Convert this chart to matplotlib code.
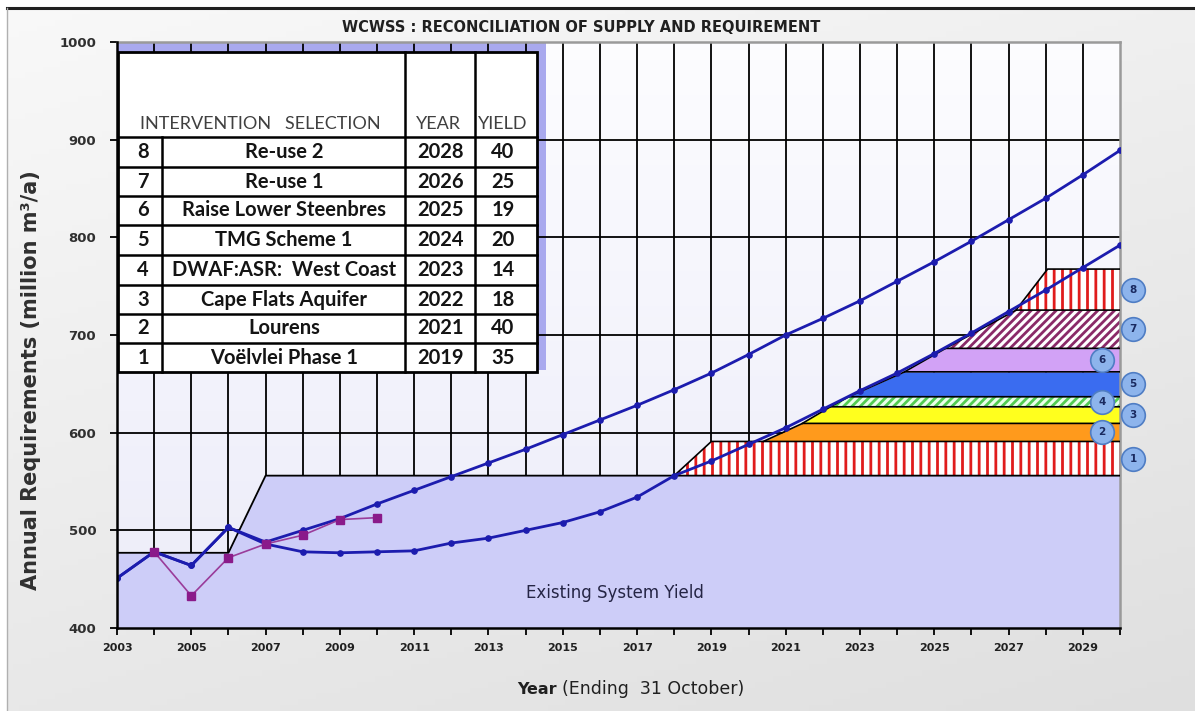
import numpy as np
import matplotlib
matplotlib.use("Agg")
import matplotlib.pyplot as plt
from matplotlib.patches import Rectangle
import matplotlib.transforms as mtransforms

# ---------------- data ----------------
years = list(range(2003, 2031))
req_high = [451, 478, 464, 503, 488, 500, 512, 527, 541, 555, 569, 583, 598, 613,
            628, 644, 661, 680, 700, 717, 735, 755, 775, 796, 818, 840, 864, 889]
req_low = [451, 478, 464, 503, 486, 478, 477, 478, 479, 487, 492, 500, 508, 519,
           534, 556, 571, 588, 605, 624, 643, 661, 681, 702, 724, 746, 769, 792]
obs_years = [2004, 2005, 2006, 2007, 2008, 2009, 2010]
obs_vals = [478, 433, 472, 486, 495, 511, 513]
yield_years = [2003, 2006, 2007, 2030]
yield_vals = [477, 477, 556, 556]

int_ids = [1, 2, 3, 4, 5, 6, 7, 8]
int_names = ["Voëlvlei Phase 1", "Lourens", "Cape Flats Aquifer", "DWAF:ASR:  West Coast",
             "TMG Scheme 1", "Raise Lower Steenbres", "Re-use 1", "Re-use 2"]
int_years = [2019, 2021, 2022, 2023, 2024, 2025, 2026, 2028]
int_yields = [35, 40, 18, 14, 20, 19, 25, 40]
band_heights = [35, 18.5, 17, 10.3, 25.5, 24, 39.2, 42]
ramp_start = [2018.0, 2020.4, 2021.45, 2022.2, 2022.7, 2024.2, 2025.3, 2027.2]
ramp_end = [2019.0, 2021.45, 2022.2, 2022.7, 2024.2, 2025.3, 2027.2, 2028.05]

xtick_labels = [str(y) if (y - 2003) % 2 == 0 else "" for y in years]
yticks = [400, 500, 600, 700, 800, 900, 1000]

# ---------------- styles ----------------
band_styles = [
    dict(facecolor="white", edgecolor="#e01c1c", hatch="||"),
    dict(facecolor="#ff9a1c", edgecolor="#ff9a1c", hatch=None),
    dict(facecolor="#ffff1e", edgecolor="#ffff1e", hatch=None),
    dict(facecolor="#eaffea", edgecolor="#52cc52", hatch="////"),
    dict(facecolor="#3a6cf0", edgecolor="#3a6cf0", hatch=None),
    dict(facecolor="#d2a2f6", edgecolor="#d2a2f6", hatch=None),
    dict(facecolor="white", edgecolor="#8a2a68", hatch="////"),
    dict(facecolor="white", edgecolor="#e01c1c", hatch="||"),
]
circ_x = [1.013, 0.982, 1.013, 0.982, 1.013, 0.982, 1.013, 1.013]

plt.rcParams["hatch.linewidth"] = 2.0
W, H = 1195, 711
fig = plt.figure(figsize=(W / 100, H / 100), dpi=100, facecolor="white")

# background frame
bg = fig.add_axes([0, 0, 1, 1], zorder=-10)
bg.set_xlim(0, W)
bg.set_ylim(H, 0)
bg.axis("off")
gx, gy = np.meshgrid(np.linspace(0, 1, 200), np.linspace(0, 1, 120))
t = 0.35 * gx + 0.65 * gy
c0 = np.array([0.975, 0.975, 0.975])
c1 = np.array([0.875, 0.875, 0.875])
img = c0 + (c1 - c0) * t[..., None]
bg.imshow(img, extent=[7, W, H, 8], aspect="auto", zorder=0)
bg.plot([7, W], [8, 8], color="#202020", lw=2.2, zorder=1)
bg.plot([7, 7], [8, H], color="#b0b0b0", lw=1.0, zorder=1)

# main axes
ax = fig.add_axes([117 / W, 1 - 628 / H, (1120 - 117) / W, (628 - 42) / H])
ax.set_xlim(2003, 2030)
ax.set_ylim(400, 1000)
ax.patch.set_visible(False)

grad = np.linspace(0, 1, 100)[:, None, None]
top_c = np.array([0.99, 0.99, 1.0])
bot_c = np.array([0.925, 0.925, 0.975])
gimg = top_c + (bot_c - top_c) * grad
ax.imshow(gimg, extent=[2003, 2030, 400, 1000], aspect="auto", zorder=0, origin="upper")

# lavender area behind table
ax.add_patch(Rectangle((0, 0.44), 0.428, 0.56, transform=ax.transAxes,
                       facecolor="#a9a9ee", edgecolor="none", zorder=0.5))

for yr in years[1:-1]:
    ax.axvline(yr, color="black", lw=1.3, zorder=1)
for yv in yticks[1:-1]:
    ax.axhline(yv, color="black", lw=1.3, zorder=1)

xs = np.linspace(2003, 2030, 5401)
base = np.interp(xs, yield_years, yield_vals)
ax.fill_between(xs, 400, base, facecolor="#cdcdf8", edgecolor="none", lw=0, zorder=2)
ax.plot(yield_years, yield_vals, color="black", lw=1.3, zorder=3)

cum = base.copy()
mids = []
for i in range(len(int_ids)):
    ramp = np.clip((xs - ramp_start[i]) / (ramp_end[i] - ramp_start[i]), 0, 1)
    top = cum + band_heights[i] * ramp
    st = band_styles[i]
    ax.fill_between(xs, cum, top, facecolor=st["facecolor"], edgecolor=st["edgecolor"],
                    hatch=st["hatch"], lw=0, zorder=2.5)
    m = xs >= ramp_start[i]
    ax.plot(xs[m], top[m], color="black", lw=1.2, zorder=3)
    mids.append(cum[-1] + band_heights[i] / 2)
    cum = top

ax.plot(years, req_high, color="#1c1cae", lw=2.0, marker="o", ms=3.8, zorder=4)
ax.plot(years, req_low, color="#1c1cae", lw=2.0, marker="o", ms=3.8, zorder=4)
ax.plot(obs_years, obs_vals, color="#9a3c9a", lw=1.2, marker="s", ms=5.5,
        mfc="#8a1a8a", mec="#8a1a8a", zorder=4.5)

ax.text(2016.4, 436, "Existing System Yield", ha="center", va="center",
        fontsize=12, color="#252545", zorder=5)

trans = mtransforms.blended_transform_factory(ax.transAxes, ax.transData)
for i in range(len(int_ids)):
    ax.plot(circ_x[i], mids[i], "o", ms=17, mfc="#8db4ec", mec="#4f7dc4", mew=1.2,
            transform=trans, clip_on=False, zorder=10)
    ax.text(circ_x[i], mids[i], str(int_ids[i]), transform=trans, ha="center", va="center",
            fontsize=7.5, fontweight="bold", color="#1a2a60", zorder=11, clip_on=False)

for s in ["left", "bottom"]:
    ax.spines[s].set_color("black")
    ax.spines[s].set_linewidth(1.8)
for s in ["top", "right"]:
    ax.spines[s].set_color("#9a9a9a")
    ax.spines[s].set_linewidth(1.8)
ax.spines["left"].set_zorder(6)

ax.set_xticks(years)
ax.set_xticklabels(xtick_labels, fontsize=8, fontweight="bold", color="#202020")
ax.set_yticks(yticks)
ax.set_yticklabels([str(v) for v in yticks], fontsize=9.5, fontweight="bold", color="#303030")
ax.tick_params(axis="x", direction="out", length=5, width=1.3, pad=6)
ax.tick_params(axis="y", direction="out", length=5, width=1.3, pad=10)

# titles / labels
fig.text(581 / W, 1 - 28 / H, "WCWSS : RECONCILIATION OF SUPPLY AND REQUIREMENT",
         ha="center", va="center", fontsize=10.5, fontweight="bold", color="#202020")
fig.text(31 / W, 1 - 380 / H, "Annual Requirements (million m³/a)", rotation=90,
         ha="center", va="center", fontsize=15, fontweight="bold", color="#303030")
fig.text(557 / W, 1 - 689 / H, "Year", ha="right", va="center", fontsize=11.5,
         fontweight="bold", color="#202020")
fig.text(562 / W, 1 - 689 / H, "(Ending  31 October)", ha="left", va="center",
         fontsize=12.5, color="#202020")

# ---------------- table overlay ----------------
ov = fig.add_axes([0, 0, 1, 1], zorder=5)
ov.set_xlim(0, W)
ov.set_ylim(H, 0)
ov.axis("off")
ov.patch.set_alpha(0)

tl, tr, tt, tb = 118, 537, 52, 372
row_b = [137, 167, 196, 225, 255, 285, 314, 343, 372]
ov.add_patch(Rectangle((tl, tt), tr - tl, tb - tt, facecolor="white",
                       edgecolor="black", lw=2.0, zorder=1))
for yb in row_b[:-1]:
    ov.plot([tl, tr], [yb, yb], color="black", lw=1.8, zorder=2)
ov.plot([162, 162], [row_b[0], tb], color="black", lw=1.8, zorder=2)
for xc in [405, 475]:
    ov.plot([xc, xc], [tt, tb], color="black", lw=1.8, zorder=2)

tfont = ["Lato", "DejaVu Sans"]
ov.text(260, 124, "INTERVENTION   SELECTION", ha="center", va="center", fontsize=13,
        family=tfont, color="#404040", zorder=3)
ov.text(438, 124, "YEAR", ha="center", va="center", fontsize=13, family=tfont,
        color="#404040", zorder=3)
ov.text(503, 124, "YIELD", ha="center", va="center", fontsize=13, family=tfont,
        color="#404040", zorder=3)
for r in range(8):
    k = 7 - r
    yc = (row_b[r] + row_b[r + 1]) / 2
    kw = dict(ha="center", va="center", fontsize=14.5, family=tfont, fontweight="bold",
              color="#141414", zorder=3)
    ov.text(143, yc, str(int_ids[k]), **kw)
    ov.text(284, yc, int_names[k], **kw)
    ov.text(441, yc, str(int_years[k]), **kw)
    ov.text(503, yc, str(int_yields[k]), **kw)

fig.savefig("out.png", dpi=100, facecolor="white")
